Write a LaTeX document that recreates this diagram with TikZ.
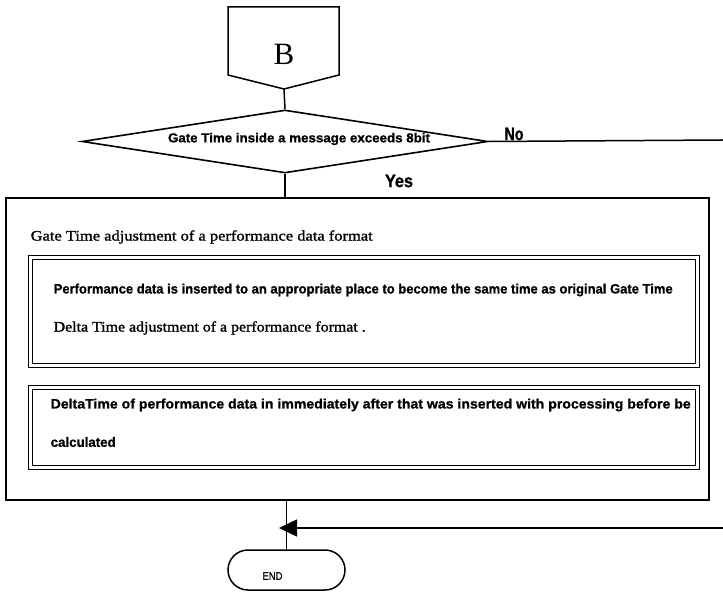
\documentclass[tikz,border=0pt]{standalone}
\usepackage{fontspec}
\usepackage{graphicx}
\setmainfont{Liberation Serif}
\newfontfamily\gothic[UprightFont=* Bold,FakeBold=1]{Liberation Sans}
\newfontfamily\gothicl[FakeBold=1]{Liberation Sans}
\newfontfamily\serifb[FakeBold=1.3]{Liberation Serif}
\usetikzlibrary{shapes.geometric,shapes.misc,arrows.meta}
\newcommand{\fitw}[2]{\resizebox{#1}{\height}{#2}}
\begin{document}
\begin{tikzpicture}[x=1pt,y=-1pt,line width=1.4pt,
  gt/.style={font=\gothic\fontsize{13.5}{15}\selectfont,inner sep=0pt,anchor=west},
  sr/.style={font=\serifb\fontsize{14.5}{16}\selectfont,inner sep=0pt,anchor=west},
  lbl/.style={font=\gothic\fontsize{18}{20}\selectfont,inner sep=0pt},
  dbox/.style={draw,double,double distance=2.6pt,line width=1.2pt,inner sep=0pt,minimum width=667pt},
  conn/.style={line width=1.5pt}]
\useasboundingbox (0,0) rectangle (723,593);
% off-page connector B
\draw[line width=1.5pt] (228,7) -- (339,7) -- (339,75) -- (284,89) -- (228,75) -- cycle;
\coordinate (Bv) at (284,89);
\node[font=\fontsize{31}{31}\selectfont,inner sep=0pt] (B) at (284,54) {B};
% decision
\node[diamond,draw,line width=1.6pt,minimum width=406pt,minimum height=63pt,inner sep=0pt] (dec) at (285,141.5) {};
\node[font=\gothic\fontsize{13}{14}\selectfont,inner sep=0pt] (dect) at (299,139) {\fitw{262pt}{Gate Time inside a message exceeds 8bit}};
\draw[conn] (Bv) -- (dec.north);
% No branch
\coordinate (noend) at (723,140);
\draw[conn] (dec.east) -- (noend);
\node[lbl,anchor=south] (no) at (514,141) {\fitw{19pt}{No}};
\node[lbl] (yes) at (399,181) {\fitw{28pt}{Yes}};
% outer process box
\node[draw,line width=1.9pt,inner sep=0pt,minimum width=703pt,minimum height=302pt] (outer) at (357.5,349) {};
\draw[conn] (dec.south) -- (dec.south |- outer.north);
\node[sr] (t0) at (30,237) {\fitw{342pt}{Gate Time adjustment of a performance data format}};
% inner box 1
\node[dbox,minimum height=108pt] (box1) at (364,311.5) {};
\node[gt] (t1) at (53,290) {\fitw{619pt}{Performance data is inserted to an appropriate place to become the same time as original Gate Time}};
\node[sr] (t2) at (53,328) {\fitw{312pt}{Delta Time adjustment of a performance format .}};
% inner box 2
\node[dbox,minimum height=80pt] (box2) at (364,427.5) {};
\node[gt] (t3) at (50,405) {\fitw{640pt}{DeltaTime of performance data in immediately after that was inserted with processing before be}};
\node[gt] (t4) at (50,442) {\fitw{65pt}{calculated}};
% end terminal
\node[rounded rectangle,draw,line width=1.5pt,minimum width=117pt,minimum height=40pt,inner sep=0pt] (endn) at (286.5,570) {};
\node[font=\gothicl\fontsize{11}{12}\selectfont,inner sep=0pt] (endt) at (272.5,576) {\fitw{20pt}{END}};
\draw[conn] (outer.south -| endn.north) -- (endn.north);
% return line with arrow
\coordinate (rin) at (723,528);
\coordinate (jn) at (279,528);
\draw[conn,-{Triangle[length=18pt,width=17pt]}] (rin) -- (jn);
\end{tikzpicture}
\end{document}
